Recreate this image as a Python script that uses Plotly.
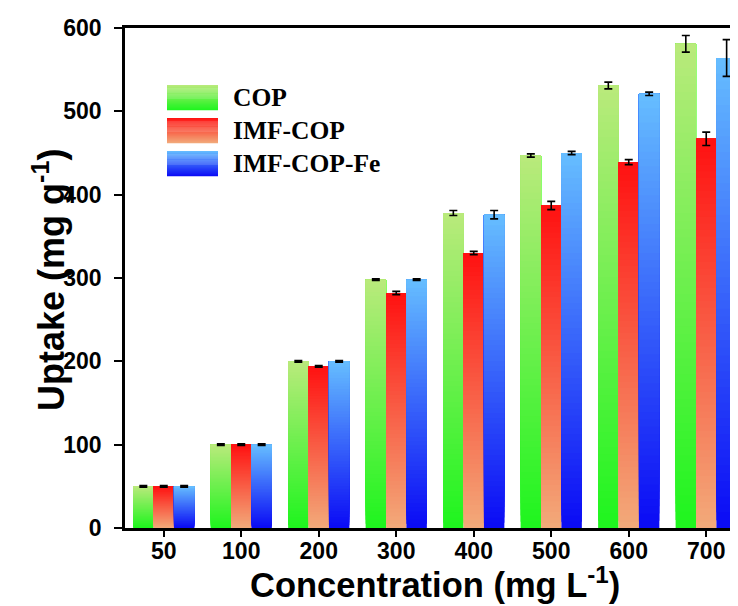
import plotly.graph_objects as go

categories = ["50", "100", "200", "300", "400", "500", "600", "700"]
series_names = ["COP", "IMF-COP", "IMF-COP-Fe"]
cop = [50, 100, 200, 298, 378, 447, 531, 581]
imf_cop = [50, 100, 194, 282, 330, 387, 439, 467]
imf_cop_fe = [50, 100, 200, 298, 376, 450, 521, 564]
cop_err = [1, 1, 1, 1, 3, 2, 4, 10]
imf_cop_err = [1, 1, 1, 2, 2, 5, 3, 8]
imf_cop_fe_err = [1, 1, 1, 1, 5, 2, 2, 22]
y_ticks = [0, 100, 200, 300, 400, 500, 600]

values = [cop, imf_cop, imf_cop_fe]
errors = [cop_err, imf_cop_err, imf_cop_fe_err]
# (top colour, bottom colour) for each series' vertical gradient
grad = [((186, 234, 124), (30, 245, 30)),
        ((255, 17, 17), (242, 170, 122)),
        ((102, 190, 255), (10, 10, 245))]

N = 60


def lerp(c1, c2, t):
    return "rgb(%d,%d,%d)" % tuple(round(a + (b - a) * t) for a, b in zip(c1, c2))


fig = go.Figure()
# gradient: each layer starts a bit higher and reaches the bar top; later layers cover earlier ones
for s, (vals, (top, bot)) in enumerate(zip(values, grad)):
    for k in range(N):
        t = (k + 0.5) / N  # 0 bottom -> 1 top
        col = lerp(bot, top, t)
        fig.add_trace(go.Bar(
            x=categories,
            y=[v * (N - k) / N for v in vals],
            base=[v * k / N for v in vals],
            offsetgroup=str(s),
            marker=dict(color=col, line=dict(width=0)),
            showlegend=False,
            hoverinfo="skip",
        ))
for s, vals in enumerate(values):
    fig.add_trace(go.Bar(
        x=categories, y=vals, offsetgroup=str(s), name=series_names[s],
        marker=dict(color="rgba(0,0,0,0)", line=dict(width=0)),
        error_y=dict(type="data", array=errors[s], color="black", thickness=1.6, width=4),
        showlegend=False,
    ))

# page body has an 8px margin; reference pixel coordinates below are page coordinates
OFF = 8
L, R, T, B = 125, 738, 28, 528
W, H = R - L, B - T
FW, FH = 738 - OFF, 606 - OFF


def px(x):
    return (x - L) / W


def py(y):
    return (B - y) / H


shapes = []
annotations = []
NS = 24
for i, (name, (top, bot)) in enumerate(zip(series_names, grad)):
    y0 = 85 + 33 * i
    for k in range(NS):
        t = (k + 0.5) / NS
        col = lerp(top, bot, t)
        ya = y0 + 25 * k / NS
        yb = y0 + 25 * (k + 1) / NS + 0.3
        shapes.append(dict(type="rect", xref="paper", yref="paper",
                           x0=px(167), x1=px(218), y0=py(yb), y1=py(ya),
                           fillcolor=col, line=dict(width=0), layer="above"))
    annotations.append(dict(text=name, xref="paper", yref="paper",
                            x=px(231), y=py(y0 + 12.5), xanchor="left", yanchor="middle",
                            showarrow=False,
                            font=dict(family="Liberation Serif, Times New Roman, serif",
                                      size=25.5, color="black", weight="bold")))

annotations.append(dict(text="Uptake (mg g<sup>-1</sup>)", xref="paper", yref="paper",
                        x=px(49), y=py(280), xanchor="center", yanchor="middle",
                        textangle=-90, showarrow=False,
                        font=dict(family="Liberation Sans, Arial, sans-serif", size=36,
                                  color="black", weight="bold")))
annotations.append(dict(text="Concentration (mg L<sup>-1</sup>)", xref="paper", yref="paper",
                        x=px(435), y=py(582), xanchor="center", yanchor="middle",
                        showarrow=False,
                        font=dict(family="Liberation Sans, Arial, sans-serif", size=34.5,
                                  color="black", weight="bold")))

tickfont = dict(family="Liberation Sans, Arial, sans-serif", size=23, color="black", weight="bold")

fig.update_layout(
    width=FW, height=FH,
    margin=dict(l=L - OFF, r=FW - (R - OFF), t=T - OFF, b=FH - (B - OFF), autoexpand=False),
    plot_bgcolor="white", paper_bgcolor="white",
    barmode="group", bargap=0.21, bargroupgap=0,
    shapes=shapes, annotations=annotations,
    xaxis=dict(type="category", range=[-0.5, 7.41], showline=True, linecolor="black",
               linewidth=2.5, mirror=True, ticks="outside", ticklen=6, tickwidth=2,
               tickcolor="black", tickfont=tickfont, showgrid=False, zeroline=False,
               ticklabelstandoff=-5, fixedrange=True),
    yaxis=dict(range=[0, 600], tickvals=y_ticks, showline=True, linecolor="black",
               linewidth=2.5, ticks="outside", ticklen=8, tickwidth=2, tickcolor="black",
               tickfont=tickfont, showgrid=False, zeroline=False, ticklabelstandoff=8,
               fixedrange=True),
)

fig.write_html("out.html")
